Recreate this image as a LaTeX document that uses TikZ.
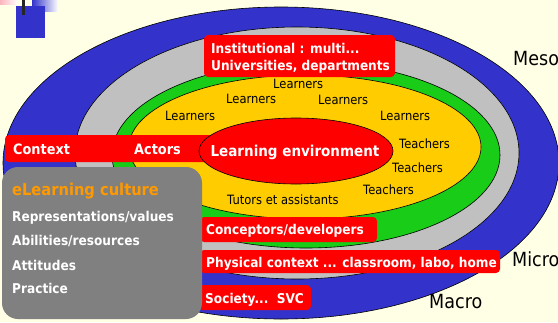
\documentclass[tikz,border=0pt]{standalone}
\usepackage{fontspec}
\setmainfont{DejaVu Sans}[FakeStretch=0.9]
\definecolor{paper}{RGB}{255,255,229}
\definecolor{ringblue}{RGB}{51,51,204}
\definecolor{ringgray}{RGB}{192,192,192}
\definecolor{ringgreen}{RGB}{24,204,24}
\definecolor{ringyellow}{RGB}{255,204,0}
\definecolor{boxgray}{RGB}{128,128,128}
\definecolor{cultureorange}{RGB}{255,153,0}
\definecolor{pinkish}{RGB}{250,180,190}
\begin{document}
\begin{tikzpicture}[x=1pt,y=-1pt,
  ring/.style={draw=black,line width=0.6pt},
  tag/.style={fill=red,rounded corners=4pt},
  whitelbl/.style={text=white,font=\bfseries\fontsize{13.5}{16}\selectfont,anchor=base west,inner sep=0pt},
  actor/.style={font=\fontsize{12.8}{15}\selectfont,anchor=base west,inner sep=0pt},
  level/.style={font=\fontsize{19.5}{22}\selectfont,anchor=base west,inner sep=0pt},
  culture/.style={text=white,font=\bfseries\fontsize{13.5}{15}\selectfont,anchor=base west,inner sep=0pt}]

% canvas
\fill[paper] (0,0) rectangle (558,322);
\useasboundingbox (0,0) rectangle (558,322);

% corner ornament
\shade[left color=pinkish,right color=white] (0,0) rectangle (18,4);
\shade[left color=ringblue,right color=white] (32,0) rectangle (58,11);
\fill[ringblue] (16,6) rectangle (45,38);
\fill[black!85] (22,0) rectangle (25,15);

% nested levels
\filldraw[ring,fill=ringblue]   (281,163) ellipse [x radius=278pt,y radius=156pt];
\filldraw[ring,fill=ringgray]   (297,153) ellipse [x radius=222pt,y radius=126pt];
\filldraw[ring,fill=ringgreen]  (306,155) ellipse [x radius=194pt,y radius=93pt];
\filldraw[ring,fill=ringyellow] (305,147) ellipse [x radius=176pt,y radius=72pt];

% actors
\node[actor] (l1) at (273,88.5) {Learners};
\node[actor] (l2) at (226,103.5) {Learners};
\node[actor] (l3) at (165,120.7) {Learners};
\node[actor] (l4) at (318,104) {Learners};
\node[actor] (l5) at (380,120.7) {Learners};
\node[actor] (t1) at (399,148.3) {Teachers};
\node[actor] (t2) at (392,172.7) {Teachers};
\node[actor] (t3) at (363,194) {Teachers};
\node[actor] (tu) at (227,204) {Tutors et assistants};

% context bar and core
\fill[tag] (5,135) rectangle (230,162);
\node[whitelbl,font=\bfseries\fontsize{14.3}{16}\selectfont] (context) at (13,154.5) {Context};
\node[whitelbl,font=\bfseries\fontsize{14.3}{16}\selectfont] (actors) at (134,154.5) {Actors};
\filldraw[ring,fill=red] (296,151) ellipse [x radius=97pt,y radius=33pt];
\node[text=white,font=\bfseries\fontsize{15}{17}\selectfont,anchor=base,inner sep=0pt]
  (core) at (295,156.7) {Learning environment};

% level tags
\fill[tag] (204,35) rectangle (395,77);
\node[whitelbl] (inst1) at (211,53.3) {Institutional : multi...};
\node[whitelbl] (inst2) at (211,70) {Universities, departments};
\fill[tag] (200,217) rectangle (377,242);
\node[whitelbl] (concept) at (206,234.5) {Conceptors/developers};
\fill[tag] (200,250) rectangle (500,273);
\node[whitelbl] (phys) at (206,267) {Physical context ... classroom, labo, home};
\fill[tag] (198,285) rectangle (311,310);
\node[whitelbl] (soc) at (205,303) {Society...\ \ SVC};

% culture panel
\fill[boxgray,rounded corners=16pt] (2,167) rectangle (202,319);
\node[anchor=base west,inner sep=0pt,text=cultureorange,font=\bfseries\fontsize{16.3}{18}\selectfont]
  (cult) at (12,195) {eLearning culture};
\node[culture] (c1) at (12,221) {Representations/values};
\node[culture] (c2) at (12,245) {Abilities/resources};
\node[culture] (c3) at (12,270) {Attitudes};
\node[culture] (c4) at (12,293.5) {Practice};

% level names
\node[level] (meso) at (513,65) {Meso};
\node[level] (micro) at (512,266.7) {Micro};
\node[level] (macro) at (429,308.5) {Macro};
\end{tikzpicture}
\end{document}
